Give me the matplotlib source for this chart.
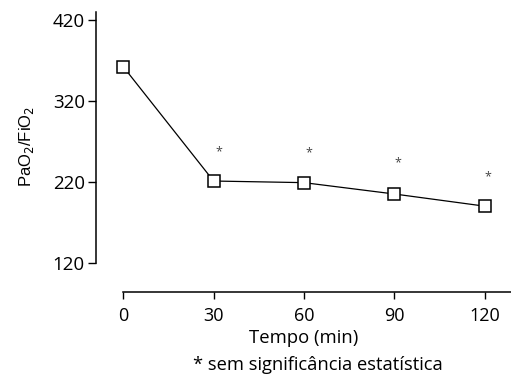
import matplotlib
matplotlib.use("Agg")
import matplotlib.pyplot as plt

# PaO2/FiO2 over time
tempo = [0, 30, 60, 90, 120]
pao2_fio2 = [362, 221, 219, 205, 190]
# asterisk annotations (x, y)
star_x = [31.7, 61.7, 91.2, 121.0]
star_y = [257, 256, 243, 226]

FONT = "Open Sans"

fig = plt.figure(figsize=(5.11, 3.84), dpi=100)
ax = fig.add_axes([96 / 511, 0.240, 415 / 511, 0.760])

ax.plot(tempo, pao2_fio2, color="black", lw=0.9, marker="s", ms=8,
        mfc="white", mec="black", mew=1.1, zorder=3)
for x, y in zip(star_x, star_y):
    ax.text(x, y, "*", ha="center", va="center", fontsize=9,
            color="#444444", family=FONT)

ax.set_xlim(-9.05, 128.75)
ax.set_ylim(84.3, 444.3)
ax.set_xticks(tempo)
ax.set_yticks([120, 220, 320, 420])

for s in ("top", "right"):
    ax.spines[s].set_visible(False)
ax.spines["left"].set_bounds(120, 429)
ax.spines["bottom"].set_bounds(0, 128.75)
ax.spines["left"].set_linewidth(1.1)
ax.spines["bottom"].set_linewidth(1.1)

ax.tick_params(axis="y", length=6, width=1.0, labelsize=13.5, pad=2)
ax.tick_params(axis="x", length=5, width=1.0, labelsize=13, pad=6)
for lab in ax.get_xticklabels() + ax.get_yticklabels():
    lab.set_family(FONT)

ax.set_ylabel("PaO$_2$/FiO$_2$", fontsize=12, family="Liberation Sans", labelpad=12)
ax.set_xlabel("Tempo (min)", fontsize=13.3, family=FONT, labelpad=3)
fig.text(0.623, 0.05, "* sem significância estatística", ha="center",
         va="center", fontsize=13.2, family=FONT)

fig.savefig("out.png", dpi=100)
